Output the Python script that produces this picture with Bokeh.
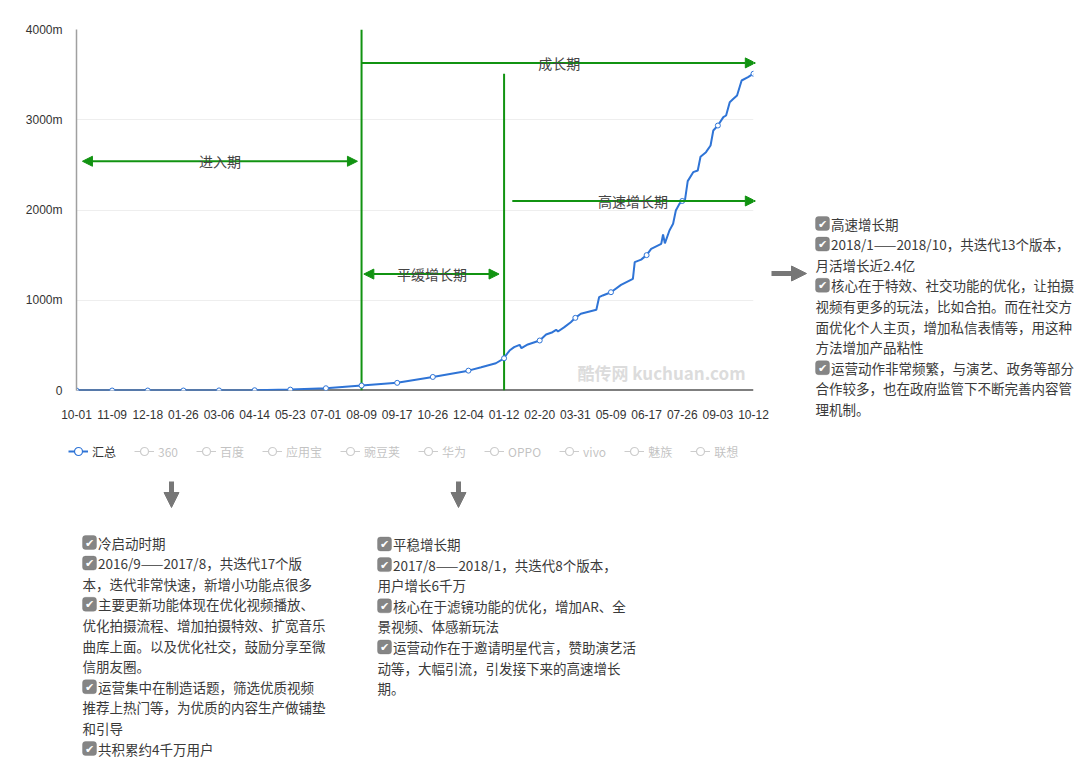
import pandas as pd
from bokeh.plotting import figure
from bokeh.layouts import row, column
from bokeh.models import (Range1d, Arrow, NormalHead, Label, BoxAnnotation, Span,
                          Legend, LegendItem)
from bokeh.core.properties import value
from bokeh.embed import file_html
from bokeh.resources import INLINE

# ---------------- data ----------------
START = "2016-10-01"
dates = [
    "2016-10-01", "2016-11-09", "2016-12-18", "2017-01-26", "2017-03-06", "2017-04-14",
    "2017-05-23", "2017-07-01", "2017-08-09", "2017-09-17", "2017-10-26", "2017-12-04",
    "2017-12-18", "2018-01-03", "2018-01-12", "2018-01-14", "2018-01-18", "2018-01-23",
    "2018-01-29", "2018-01-31", "2018-02-07", "2018-02-20", "2018-02-27", "2018-03-06",
    "2018-03-10", "2018-03-12", "2018-03-19", "2018-03-26", "2018-03-31", "2018-04-06",
    "2018-04-23", "2018-04-26", "2018-04-30", "2018-05-09", "2018-05-20", "2018-06-02",
    "2018-06-04", "2018-06-11", "2018-06-17", "2018-06-22", "2018-07-03", "2018-07-05",
    "2018-07-07", "2018-07-12", "2018-07-16", "2018-07-19", "2018-07-23", "2018-07-26",
    "2018-07-29", "2018-08-01", "2018-08-07", "2018-08-12", "2018-08-15", "2018-08-21",
    "2018-08-26", "2018-08-29", "2018-09-03", "2018-09-09", "2018-09-12", "2018-09-16",
    "2018-09-20", "2018-09-24", "2018-09-29", "2018-10-06", "2018-10-12",
]
values = [
    0, 0, 0, 0, 1, 3,
    10, 25, 55, 85, 150, 220,
    258, 302, 357, 390, 443, 480,
    506, 469, 510, 554, 620, 646,
    672, 654, 702, 757, 805, 850,
    894, 1034, 1053, 1089, 1170, 1237,
    1422, 1450, 1500, 1570, 1625, 1728,
    1630, 1773, 1847, 1994, 2069, 2100,
    2110, 2320, 2419, 2438, 2590, 2641,
    2715, 2881, 2936, 3029, 3047, 3195,
    3232, 3269, 3435, 3472, 3510,
]
tick_dates = [
    "2016-10-01", "2016-11-09", "2016-12-18", "2017-01-26", "2017-03-06", "2017-04-14",
    "2017-05-23", "2017-07-01", "2017-08-09", "2017-09-17", "2017-10-26", "2017-12-04",
    "2018-01-12", "2018-02-20", "2018-03-31", "2018-05-09", "2018-06-17", "2018-07-26",
    "2018-09-03", "2018-10-12",
]
tick_labels = [d[5:] for d in tick_dates]
y_ticks = [0, 1000, 2000, 3000, 4000]
y_labels = ["0", "1000m", "2000m", "3000m", "4000m"]
series_names = ["汇总", "360", "百度", "应用宝", "豌豆荚", "华为", "OPPO", "vivo", "魅族", "联想"]
phase_bounds = ["2016-10-01", "2017-08-09", "2018-01-12", "2018-10-12"]
phase_names = ["进入期", "成长期", "平缓增长期", "高速增长期"]

left_block = [
    (True, "冷启动时期"),
    (True, "2016/9——2017/8，共迭代17个版"),
    (False, "本，迭代非常快速，新增小功能点很多"),
    (True, "主要更新功能体现在优化视频播放、"),
    (False, "优化拍摄流程、增加拍摄特效、扩宽音乐"),
    (False, "曲库上面。以及优化社交，鼓励分享至微"),
    (False, "信朋友圈。"),
    (True, "运营集中在制造话题，筛选优质视频"),
    (False, "推荐上热门等，为优质的内容生产做铺垫"),
    (False, "和引导"),
    (True, "共积累约4千万用户"),
]
mid_block = [
    (True, "平稳增长期"),
    (True, "2017/8——2018/1，共迭代8个版本，"),
    (False, "用户增长6千万"),
    (True, "核心在于滤镜功能的优化，增加AR、全"),
    (False, "景视频、体感新玩法"),
    (True, "运营动作在于邀请明星代言，赞助演艺活"),
    (False, "动等，大幅引流，引发接下来的高速增长"),
    (False, "期。"),
]
right_block = [
    (True, "高速增长期"),
    (True, "2018/1——2018/10，共迭代13个版本，"),
    (False, "月活增长近2.4亿"),
    (True, "核心在于特效、社交功能的优化，让拍摄"),
    (False, "视频有更多的玩法，比如合拍。而在社交方"),
    (False, "面优化个人主页，增加私信表情等，用这种"),
    (False, "方法增加产品粘性"),
    (True, "运营动作非常频繁，与演艺、政务等部分"),
    (False, "合作较多，也在政府监管下不断完善内容管"),
    (False, "理机制。"),
]

# ---------------- helpers ----------------
t0 = pd.Timestamp(START)
def day(d):
    return (pd.Timestamp(d) - t0).days

xs = [day(d) for d in dates]
tick_x = [day(d) for d in tick_dates]
tick_vals = [values[dates.index(d)] for d in tick_dates]
b = [day(d) for d in phase_bounds]

FONT = "Noto Sans CJK SC"
GREEN = "#119311"
BLUE = "#2f74d6"
GREY = "#777777"
TXT = "#3a3a3a"

# ================= main chart =================
p = figure(width=770, height=433, min_border_left=76, min_border_right=17,
           min_border_top=29, min_border_bottom=43,
           x_range=Range1d(0, b[3]), y_range=Range1d(0, 4000),
           output_backend="svg", toolbar_location=None)
p.outline_line_color = None
p.frame_align = False

p.xgrid.grid_line_color = None
p.ygrid.ticker = y_ticks
p.ygrid.grid_line_color = "#eeeeee"

p.yaxis.ticker = y_ticks
p.yaxis.major_label_overrides = {t: l for t, l in zip(y_ticks, y_labels)}
p.yaxis.major_tick_line_color = None
p.yaxis.minor_tick_line_color = None
p.yaxis.axis_line_color = "#a0a0a0"
p.yaxis.axis_line_width = 1.5
p.yaxis.major_label_standoff = 8
p.yaxis.major_label_text_font = "Liberation Sans"
p.yaxis.major_label_text_font_size = "12px"
p.yaxis.major_label_text_color = "#333333"

p.xaxis.ticker = tick_x
p.xaxis.major_label_overrides = {t: l for t, l in zip(tick_x, tick_labels)}
p.xaxis.major_tick_line_color = None
p.xaxis.minor_tick_line_color = None
p.xaxis.axis_line_color = None
p.xaxis.major_label_standoff = 13
p.xaxis.major_label_text_font = "Liberation Sans"
p.xaxis.major_label_text_font_size = "12px"
p.xaxis.major_label_text_color = "#333333"

p.add_layout(Span(location=0, dimension="width", line_color="black", line_width=2,
                  level="underlay"))

p.segment(x0=[b[1], b[2]], y0=[0, 0], x1=[b[1], b[2]], y1=[4000, 3510],
          line_color=GREEN, line_width=2)

r_line = p.line(xs, values, line_color=BLUE, line_width=2)
r_pts = p.scatter(tick_x, tick_vals, size=5, marker="circle", fill_color="white",
                  line_color=BLUE, line_width=1)

def harrow(x0, x1, y, both):
    head = lambda: NormalHead(size=10, fill_color=GREEN, line_color=GREEN)
    p.add_layout(Arrow(x_start=x0, y_start=y, x_end=x1, y_end=y,
                       line_color=GREEN, line_width=2,
                       start=head() if both else None, end=head()))

harrow(b[0] + 6.5, b[1] - 4.5, 2540, True)
harrow(b[1], b[3] + 2, 3630, False)
harrow(b[1] + 2.5, b[2] - 5.5, 1290, True)
harrow(b[2] + 9, b[3] + 2, 2100, False)

for x, y, t in [(157, 2540, phase_names[0]), ((b[1] + b[3]) / 2 + 2, 3630, phase_names[1]),
                (389, 1290, phase_names[2]), (609, 2100, phase_names[3])]:
    p.add_layout(Label(x=x, y=y, text=t, text_align="center", text_baseline="middle",
                       text_font=FONT, text_font_size="14px", text_color="#444444"))

p.add_layout(Label(x=501, y=18, x_units="screen", y_units="screen",
                   text="酷传网 kuchuan.com", text_baseline="middle",
                   text_font=FONT, text_font_size="17px", text_font_style="bold",
                   text_color="#dcdcdc"))

# ================= text panels (reference-pixel coordinates) =================
def panel(x0, x1, y0, y1):
    f = figure(width=int(x1 - x0), height=int(y1 - y0),
               x_range=Range1d(x0, x1), y_range=Range1d(y1, y0),
               x_axis_location=None, y_axis_location=None,
               min_border=0, output_backend="svg", toolbar_location=None)
    f.grid.visible = False
    f.outline_line_color = None
    f.frame_align = False
    return f

def block(f, lines, x_icon, y0, step):
    tx, ty, tt = [], [], []
    cx, cy = [], []
    for i, (icon, txt) in enumerate(lines):
        yc = y0 + i * step
        if icon:
            f.add_layout(BoxAnnotation(left=x_icon, right=x_icon + 14,
                                       top=yc - 7, bottom=yc + 7,
                                       fill_color="#858585", fill_alpha=1,
                                       line_color="#6c6c6c", line_width=1,
                                       border_radius=3, level="underlay"))
            cx.append(x_icon + 7)
            cy.append(yc + 0.5)
            tx.append(x_icon + 15.5)
        else:
            tx.append(x_icon)
        ty.append(yc)
        tt.append(txt)
    f.text(x=cx, y=cy, text=["✔"] * len(cx), text_align="center", text_baseline="middle",
           text_font=value("DejaVu Sans"), text_font_size="11px", text_color="white")
    f.text(x=tx, y=ty, text=tt, text_baseline="middle", text_font=value(FONT),
           text_font_size="13.5px", text_color=TXT)

def garrow(f, x0, y0, x1, y1):
    f.add_layout(Arrow(x_start=x0, y_start=y0, x_end=x1, y_end=y1,
                       line_color=GREY, line_width=5,
                       end=NormalHead(size=15, fill_color=GREY, line_color=GREY)))

# ---------- right panel ----------
right = panel(770, 1080, 0, 433)
garrow(right, 771, 273, 806, 273)
block(right, right_block, 815, 223, 20.6)

# ---------- bottom panel ----------
bottom = panel(0, 1080, 433, 758)
garrow(bottom, 171, 481, 171, 507)
garrow(bottom, 458, 481, 458, 507)
block(bottom, left_block, 82, 542, 20.6)
block(bottom, mid_block, 377, 543.5, 20.6)

# legend (mirrors the series of the chart; only 汇总 is active)
items = []
for i, name in enumerate(series_names):
    col = BLUE if i == 0 else "#555555"
    rl = bottom.line(x=[-100, -90], y=[-100, -100], line_color=col,
                     line_width=2 if i == 0 else 1, visible=(i == 0))
    rs = bottom.scatter(x=[-100], y=[-100], size=8, marker="circle", fill_color="white",
                        line_color=col, line_width=1.2, visible=(i == 0))
    items.append(LegendItem(label=name, renderers=[rl, rs]))
legend = Legend(items=items, orientation="horizontal", location=(68, 758 - 461),
                click_policy="hide", label_text_font=FONT, label_text_font_size="12px",
                label_text_color="#333333", glyph_width=20, glyph_height=20,
                label_standoff=4, spacing=18, padding=0, margin=0,
                border_line_color=None, background_fill_alpha=0)
bottom.add_layout(legend)

layout = column(row(p, right), bottom)
open("out.html", "w").write(file_html(layout, INLINE))
